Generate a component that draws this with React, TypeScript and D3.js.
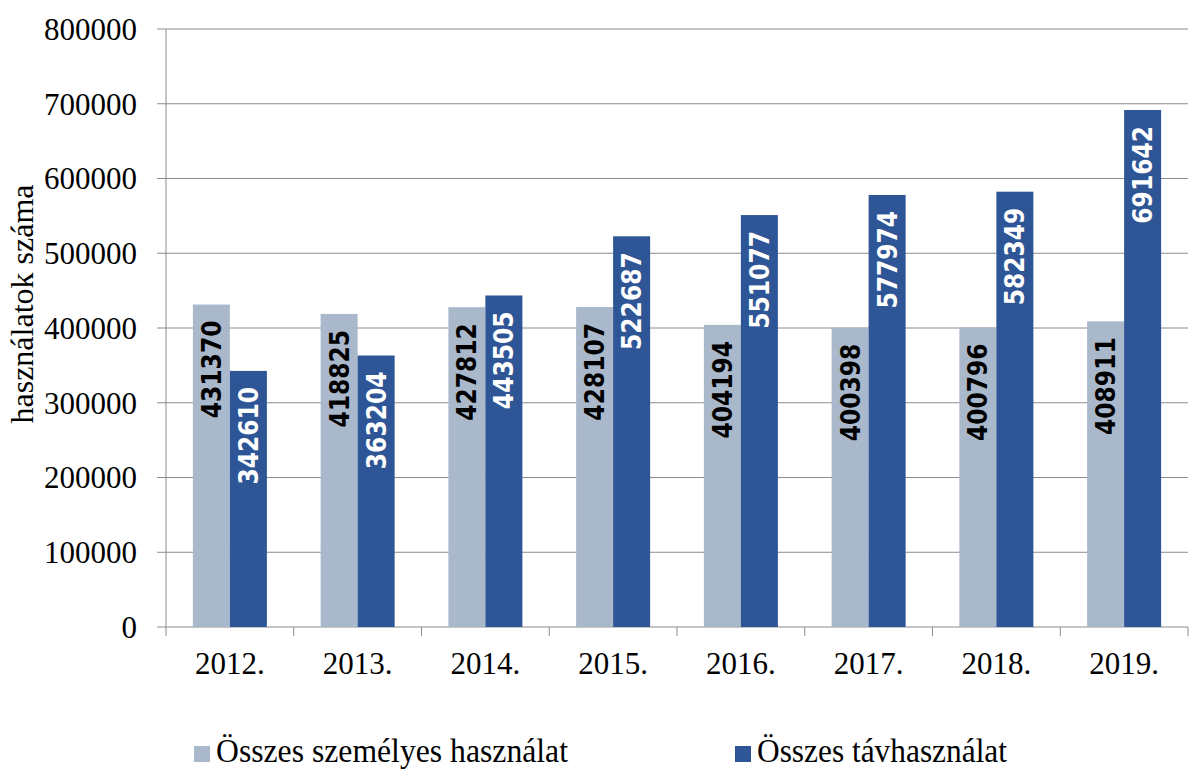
import React from 'react';
import { scaleBand, scaleLinear } from 'd3';

const years = ['2012.', '2013.', '2014.', '2015.', '2016.', '2017.', '2018.', '2019.'];
const szemelyes = [431370, 418825, 427812, 428107, 404194, 400398, 400796, 408911];
const tav = [342610, 363204, 443505, 522687, 551077, 577974, 582349, 691642];
const seriesNames = ['Összes személyes használat', 'Összes távhasználat'];
const yTicks = [0, 100000, 200000, 300000, 400000, 500000, 600000, 700000, 800000];

const colors = ['#aab8cc', '#2e5596'];
const labelColors = ['#000', '#fff'];

const App = () => {
  const width = 1190;
  const height = 769;
  const left = 166;
  const right = 1188;
  const top = 29;
  const bottom = 627;
  const serif = '"Liberation Serif", "Times New Roman", serif';

  const x0 = scaleBand().domain(years).range([left, right]).padding(0);
  const groupW = 74;
  const x1 = scaleBand().domain(seriesNames).range([0, groupW]);
  const y = scaleLinear().domain([0, 800000]).range([bottom, top]);

  const series = [szemelyes, tav];

  return (
    <svg width={width} height={height} style={{ position: 'absolute', left: 0, top: 0, background: '#fff' }}>
      {/* grid */}
      {yTicks.map(t => (
        <g key={t}>
          <line x1={left - 9} x2={right} y1={y(t)} y2={y(t)} stroke="#8c8c8c" strokeWidth={1} />
          <text x={137} y={y(t)} dy="0.35em" textAnchor="end" fontFamily={serif} fontSize={31} fill="#000">{t}</text>
        </g>
      ))}
      <line x1={left} x2={left} y1={top} y2={bottom} stroke="#8c8c8c" />
      {years.map((yr, i) => (
        <line key={'t' + i} x1={x0(yr)!} x2={x0(yr)!} y1={bottom} y2={bottom + 9} stroke="#8c8c8c" />
      ))}
      <line x1={right} x2={right} y1={bottom} y2={bottom + 9} stroke="#8c8c8c" />

      {/* bars */}
      {years.map((yr, i) => {
        const gx = x0(yr)! + (x0.bandwidth() - groupW) / 2;
        return (
          <g key={yr}>
            {series.map((vals, s) => {
              const bx = gx + x1(seriesNames[s])!;
              const by = y(vals[i]);
              const cx = bx + x1.bandwidth() / 2;
              return (
                <g key={s}>
                  <rect x={bx} y={by} width={x1.bandwidth()} height={bottom - by} fill={colors[s]} />
                  <text
                    transform={`translate(${cx},${by + 16}) rotate(-90)`}
                    textAnchor="end"
                    dy="0.36em"
                    fontFamily='"DejaVu Sans Condensed", "DejaVu Sans", sans-serif'
                    fontWeight="bold"
                    fontSize={26}
                    fill={labelColors[s]}
                  >{vals[i]}</text>
                </g>
              );
            })}
            <text x={x0(yr)! + x0.bandwidth() / 2} y={674} textAnchor="middle" fontFamily={serif} fontSize={31} fill="#000">{yr}</text>
          </g>
        );
      })}

      {/* y title */}
      <text transform="translate(33,304) rotate(-90)" textAnchor="middle" fontFamily={serif} fontSize={32} fill="#000">használatok száma</text>

      {/* legend */}
      {[194, 735].map((lx, s) => (
        <g key={s}>
          <rect x={lx} y={746} width={16} height={16} fill={colors[s]} />
          <text x={lx + 22} y={762} fontFamily={serif} fontSize={34} fill="#000"
            textLength={s === 0 ? 352 : 250} lengthAdjust="spacingAndGlyphs">{seriesNames[s]}</text>
        </g>
      ))}
    </svg>
  );
};

export default App;
